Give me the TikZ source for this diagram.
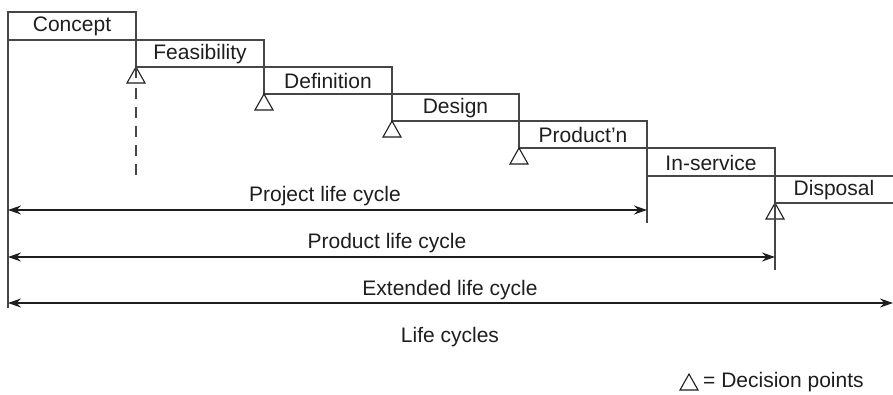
\documentclass[tikz,border=0pt]{standalone}
\usepackage{fontspec}
\setmainfont{Liberation Sans}
\usetikzlibrary{arrows.meta}
\definecolor{ln}{RGB}{70,70,70}
\definecolor{tx}{RGB}{30,30,30}
\begin{document}
\begin{tikzpicture}[x=1pt,y=-1pt,
  lbl/.style={text=tx,font=\fontsize{21}{24}\selectfont,inner sep=0pt},
  edge/.style={draw=ln,line width=1.3pt},
  span/.style={draw=tx,line width=1.3pt,{Stealth[length=13pt,width=9pt]}-{Stealth[length=13pt,width=9pt]}},
  dpoint/.style={draw=tx,line width=1.1pt,fill=white}]
\useasboundingbox (0,0) rectangle (893,394);
% corner coordinates of the phase boxes
\foreach \i/\x/\y in {0/8/12,1/136/40,2/264/67,3/392/94,4/519/121,5/647/148,6/775/176,7/893/203}{
  \coordinate (c\i) at (\x,\y);
}
% boxes
\draw[edge] (8,40) -- (8,12) -- (136,12) -- (136,67);
\draw[edge] (8,40) -- (264,40) -- (264,94);
\draw[edge] (136,67) -- (392,67) -- (392,121);
\draw[edge] (264,94) -- (519,94) -- (519,148);
\draw[edge] (392,121) -- (647,121) -- (647,176);
\draw[edge] (519,148) -- (775,148) -- (775,203);
\draw[edge] (647,176) -- (893,176);
\draw[edge] (775,203) -- (893,203);
% long verticals
\coordinate (l0) at (8,308);
\coordinate (l5) at (647,223);
\coordinate (l6) at (775,270);
\draw[edge] (8,12) -- (l0);
\draw[edge] (647,148) -- (l5);
\draw[edge] (775,148) -- (l6);
\draw[edge] (136,67) -- (136,80);
\draw[edge,dash pattern=on 11pt off 8pt] (136,88) -- (136,178);
% phase labels
\node[lbl] (concept) at (72,26.5) {Concept};
\node[lbl] (feas) at (200,54) {Feasibility};
\node[lbl] (defn) at (328,81) {Definition};
\node[lbl] (design) at (455.5,108) {Design};
\node[lbl] (prod) at (583,135) {Product’n};
\node[lbl] (inserv) at (711,162.5) {In-service};
\node[lbl] (disp) at (834,190) {Disposal};
% decision points
\foreach \x/\y in {136/67,264/94,392/121,519/148,775/203}{
  \draw[dpoint] (\x,\y) -- (\x-9,\y+16) -- (\x+9,\y+16) -- cycle;
}
\draw[edge] (775,203) -- (775,222);
\draw[edge] (136,67) -- (136,78);
% life-cycle spans
\coordinate (pa) at (8,210);
\coordinate (pb) at (647,210);
\coordinate (qa) at (8,257);
\coordinate (qb) at (775,257);
\coordinate (ea) at (8,303);
\coordinate (eb) at (893,303);
\draw[span] (pa) -- (pb);
\draw[span] (qa) -- (qb);
\draw[span] (ea) -- (eb);
\node[lbl] (project) at (325,196) {Project life cycle};
\node[lbl] (product) at (387,243) {Product life cycle};
\node[lbl] (extended) at (450,290) {Extended life cycle};
\node[lbl] (title) at (450,337) {Life cycles};
% legend
\draw[dpoint] (689,374) -- (680,390) -- (698,390) -- cycle;
\node[lbl,anchor=west] (legend) at (703,382) {= Decision points};
\end{tikzpicture}
\end{document}
